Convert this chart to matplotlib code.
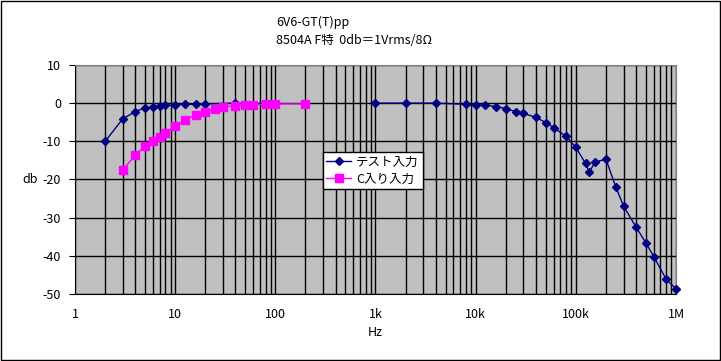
import numpy as np
import matplotlib
matplotlib.use("Agg")
import matplotlib.pyplot as plt
from matplotlib.ticker import FixedLocator, LogLocator, NullFormatter
from matplotlib.patches import Rectangle

plt.rcParams['font.family'] = ['Noto Sans CJK JP', 'DejaVu Sans']

# test input (blue) - NaN marks the gap between 40 Hz and 1 kHz
test_freq = [2, 3, 4, 5, 6, 7, 8, 10, 12.5, 16, 20, 40, 100,
             1000, 2000, 4000, 8000, 10000, 12500, 16000, 20000, 25000, 30000,
             40000, 50000, 60000, 80000, 100000, 125000, 136000, 156000,
             200000, 250000, 300000, 400000, 500000, 600000, 800000, 1000000]
test_db = [-10.0, -4.1, -2.2, -1.2, -1.0, -0.7, -0.6, -0.5, -0.3, -0.3, -0.2, 0.0, np.nan,
           0.0, 0.0, 0.0, -0.3, -0.5, -0.5, -0.9, -1.4, -2.2, -2.7,
           -3.7, -5.1, -6.4, -8.7, -11.6, -15.8, -18.1, -15.4,
           -14.7, -21.9, -27.0, -32.5, -36.6, -40.2, -46.2, -48.6]

# with coupling capacitor (magenta)
c_freq = [3, 4, 5, 6, 7, 8, 10, 12.5, 16, 20, 25, 30, 40, 50, 60, 80, 100, 200]
c_db = [-17.5, -13.6, -11.3, -9.9, -8.8, -7.8, -6.0, -4.5, -3.0, -2.3,
        -1.5, -1.0, -0.7, -0.4, -0.35, -0.26, -0.2, -0.2]

xticks = [1, 10, 100, 1000, 10000, 100000, 1000000]
xtick_labels = ['1', '10', '100', '1k', '10k', '100k', '1M']
yticks = [10, 0, -10, -20, -30, -40, -50]

fig = plt.figure(figsize=(7.21, 3.61), dpi=100)
fig.patches.append(Rectangle((0.001, 0.002), 0.997, 0.995, transform=fig.transFigure,
                             fill=False, edgecolor='black', linewidth=1))

ax = fig.add_axes([75 / 721, 1 - 294 / 361, 601 / 721, 229 / 361])
ax.set_facecolor('#C0C0C0')
ax.set_xscale('log')
ax.set_xlim(1, 1e6)
ax.set_ylim(-50, 10)

ax.xaxis.set_major_locator(FixedLocator(xticks))
ax.set_xticklabels(xtick_labels)
ax.xaxis.set_minor_locator(LogLocator(base=10, subs=np.arange(2, 10), numticks=100))
ax.xaxis.set_minor_formatter(NullFormatter())
ax.set_yticks(yticks)
ax.set_yticklabels([str(v) for v in yticks])

ax.grid(True, which='major', color='black', linewidth=1)
ax.grid(True, which='minor', axis='x', color='black', linewidth=1)
ax.set_axisbelow(True)
for s in ax.spines.values():
    s.set_color('#808080')
ax.spines['bottom'].set_color('black')
ax.spines['left'].set_color('black')
ax.tick_params(axis='both', which='both', labelsize=9, length=0, pad=10)
ax.tick_params(axis='y', length=4, pad=6)

ax.plot(test_freq, test_db, color='#000080', linewidth=1, marker='D',
        markersize=4.5, label='テスト入力', clip_on=False, zorder=3)
ax.plot(c_freq, c_db, color='#FF00FF', linewidth=1, marker='s',
        markersize=6, label='C入り入力', clip_on=False, zorder=4)

ax.set_xlabel('Hz', fontsize=9, labelpad=4)
ax.set_ylabel('db', fontsize=9, rotation=0, ha='right', va='center')
ax.yaxis.set_label_coords(-0.062, 0.5)

leg = ax.legend(loc='upper left', bbox_to_anchor=(0.412, 0.62), fontsize=9,
                frameon=True, fancybox=False, framealpha=1, edgecolor='black',
                borderpad=0.3, handlelength=2.0, handletextpad=0.4,
                labelspacing=0.3, borderaxespad=0)
leg.get_frame().set_linewidth(1)

fig.text(276 / 721, 1 - 22 / 361, '6V6-GT(T)pp', fontsize=9, va='center', ha='left')
fig.text(276 / 721, 1 - 40 / 361, '8504A F特  0db＝1Vrms/8Ω', fontsize=9,
         va='center', ha='left')

fig.savefig('out.png', dpi=100)
